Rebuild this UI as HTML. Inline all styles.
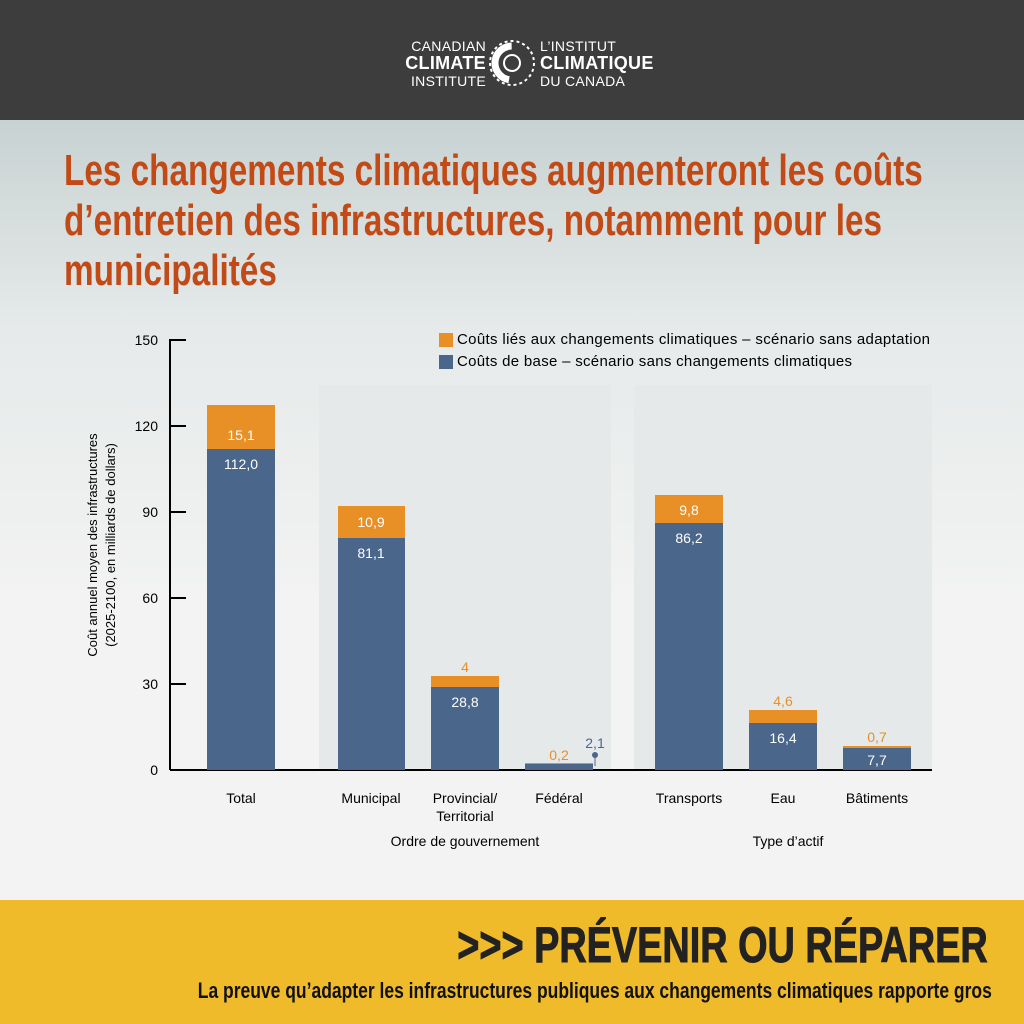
<!DOCTYPE html><html><head><meta charset="utf-8"><style>
body{margin:0;width:1024px;height:1024px;overflow:hidden;font-family:"Liberation Sans",sans-serif;position:relative;background:linear-gradient(#c8d2d2 120px,#e6eaea 330px,#f2f3f2 600px)}
.hdr{position:absolute;left:0;top:0;width:1024px;height:120px;background:#3d3d3d;color:#fff}
.t{position:absolute;left:64px;top:146px;width:1200px;color:#c24a16;font-weight:bold;font-size:44px;line-height:50px;transform:scaleX(.757);transform-origin:0 0}
.ft{position:absolute;left:0;top:900px;width:1024px;height:124px;background:#f0bb2a}
</style></head><body>
<div class="hdr">
<div style="position:absolute;right:538px;top:38px;text-align:right;font-size:14px;line-height:17px;letter-spacing:.3px">CANADIAN<br><b style="font-size:18px">CLIMATE</b><br>INSTITUTE</div>
<svg style="position:absolute;left:488px;top:33px" width="50" height="60"><circle cx="24" cy="30" r="17" fill="none" stroke="#fff" stroke-width="7" stroke-dasharray="50 60" transform="rotate(100 24 30)"/><circle cx="24" cy="30" r="8" fill="none" stroke="#fff" stroke-width="2"/><circle cx="24" cy="30" r="22" fill="none" stroke="#fff" stroke-width="2" stroke-dasharray="3 3"/></svg>
<div style="position:absolute;left:540px;top:38px;font-size:14px;line-height:17px;letter-spacing:.3px">L’INSTITUT<br><b style="font-size:18px">CLIMATIQUE</b><br>DU CANADA</div>
</div>
<div class="t">Les changements climatiques augmenteront les coûts<br>d’entretien des infrastructures, notamment pour les<br>municipalités</div>
<svg style="position:absolute;left:0;top:0" width="1024" height="900" font-family="Liberation Sans,sans-serif" font-size="13">
<rect x="319" y="385" width="292" height="385" fill="#e6e9ea"/>
<rect x="634" y="385" width="298" height="385" fill="#e6e9ea"/>
<g stroke="#000" stroke-width="2"><line x1="170" y1="339" x2="170" y2="770"/><line x1="170" y1="770" x2="932" y2="770"/>
<line x1="170" y1="340" x2="186" y2="340"/><line x1="170" y1="426" x2="186" y2="426"/><line x1="170" y1="512" x2="186" y2="512"/><line x1="170" y1="598" x2="186" y2="598"/><line x1="170" y1="684" x2="186" y2="684"/></g>
<g text-anchor="end" font-size="14"><text x="158" y="345">150</text><text x="158" y="431">120</text><text x="158" y="517">90</text><text x="158" y="603">60</text><text x="158" y="689">30</text><text x="158" y="775">0</text></g>
<text transform="translate(97 545) rotate(-90)" text-anchor="middle" font-size="13">Coût annuel moyen des infrastructures</text>
<text transform="translate(115 545) rotate(-90)" text-anchor="middle" font-size="13">(2025-2100, en milliards de dollars)</text>
<rect x="439" y="333" width="14" height="14" fill="#e88f25"/><text x="457" y="344" font-size="15" textLength="473">Coûts liés aux changements climatiques – scénario sans adaptation</text>
<rect x="439" y="355" width="14" height="14" fill="#4a668b"/><text x="457" y="366" font-size="15" textLength="395">Coûts de base – scénario sans changements climatiques</text>
<g fill="#4a668b"><rect x="207" y="449" width="68" height="321"/><rect x="338" y="538" width="67" height="232"/><rect x="431" y="687" width="68" height="83"/><rect x="525" y="764" width="68" height="6"/><rect x="655" y="523" width="68" height="247"/><rect x="749" y="723" width="68" height="47"/><rect x="843" y="748" width="68" height="22"/></g>
<g fill="#e88f25"><rect x="207" y="405" width="68" height="44"/><rect x="338" y="506" width="67" height="32"/><rect x="431" y="676" width="68" height="11"/><rect x="525" y="763" width="68" height="1"/><rect x="655" y="495" width="68" height="28"/><rect x="749" y="710" width="68" height="13"/><rect x="843" y="746" width="68" height="2"/></g>
<g fill="#fff" text-anchor="middle" font-size="14"><text x="241" y="440">15,1</text><text x="241" y="469">112,0</text><text x="371" y="527">10,9</text><text x="371" y="558">81,1</text><text x="465" y="707">28,8</text><text x="689" y="515">9,8</text><text x="689" y="543">86,2</text><text x="783" y="743">16,4</text><text x="877" y="765">7,7</text></g>
<g fill="#e88f25" text-anchor="middle" font-size="14"><text x="465" y="672">4</text><text x="559" y="760">0,2</text><text x="783" y="706">4,6</text><text x="877" y="742">0,7</text></g>
<text x="595" y="748" fill="#4a668b" text-anchor="middle" font-size="14">2,1</text><line x1="595" y1="755" x2="595" y2="766" stroke="#4a668b"/><circle cx="595" cy="755" r="3" fill="#4a668b"/>
<g text-anchor="middle" font-size="14"><text x="241" y="803">Total</text><text x="371" y="803">Municipal</text><text x="465" y="803">Provincial/</text><text x="465" y="821">Territorial</text><text x="559" y="803">Fédéral</text><text x="689" y="803">Transports</text><text x="783" y="803">Eau</text><text x="877" y="803">Bâtiments</text><text x="465" y="846">Ordre de gouvernement</text><text x="788" y="846">Type d’actif</text></g>
</svg>
<div class="ft">
<div style="position:absolute;right:36px;top:16px;font-size:50px;font-weight:bold;color:#222;transform:scaleX(.757);transform-origin:100% 0;white-space:nowrap;-webkit-text-stroke:1px #222">&gt;&gt;&gt; PRÉVENIR OU RÉPARER</div>
<div style="position:absolute;right:32px;top:78px;font-size:22px;font-weight:bold;color:#111;transform:scaleX(.795);transform-origin:100% 0;white-space:nowrap">La preuve qu’adapter les infrastructures publiques aux changements climatiques rapporte gros</div>
</div>
</body></html>
